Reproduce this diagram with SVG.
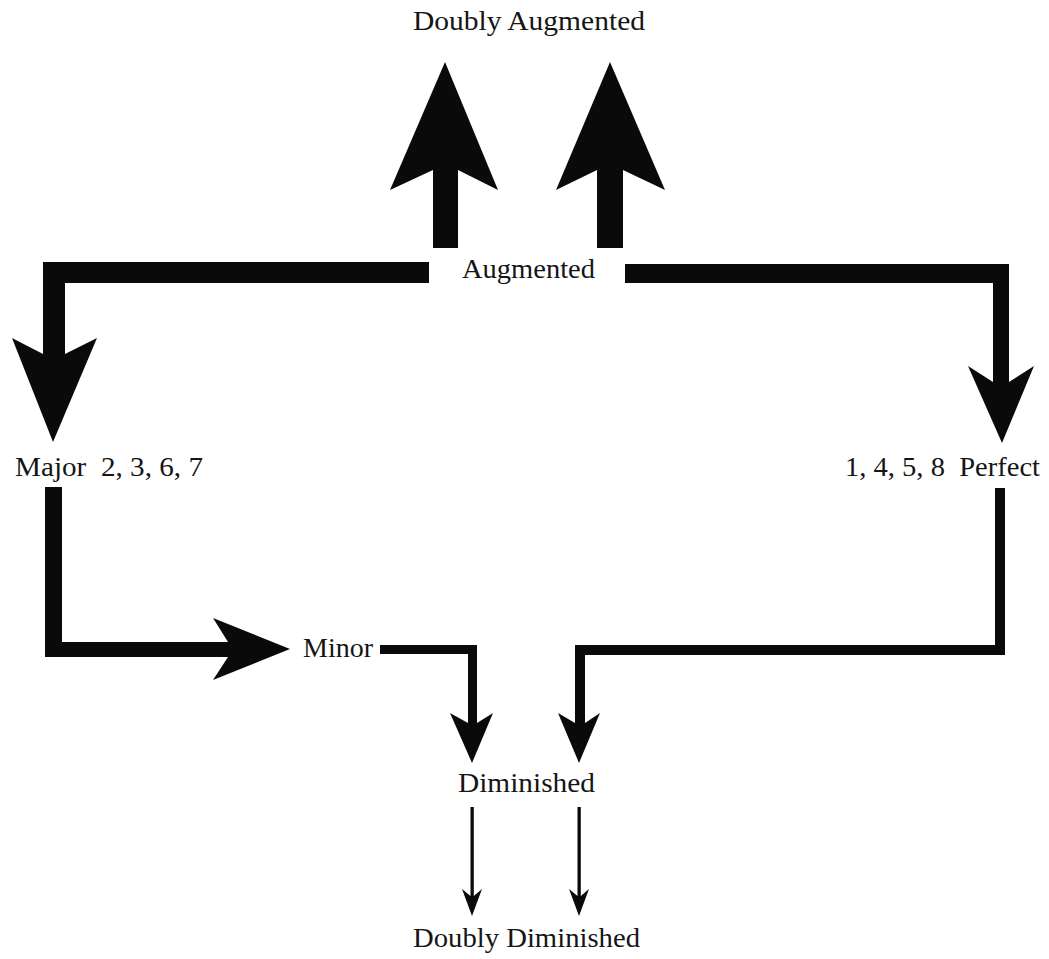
<svg xmlns="http://www.w3.org/2000/svg" width="1049" height="959" viewBox="0 0 1049 959">
  <style>
    .lbl { font-family: "Liberation Serif", "Times New Roman", serif; font-size: 27px; fill: #151515; }
    .arrow { fill: #0a0a0a; stroke: none; }
  </style>
  <rect width="1049" height="959" fill="#ffffff"/>

  <!-- connectors: solid filled arrow outlines -->
  <g id="connectors">
    <!-- Augmented -> Doubly Augmented (two heavy arrows) -->
    <polygon class="arrow" points="445,62 498,190 458,170 458,248 433,248 433,170 390,190"/>
    <polygon class="arrow" points="610,62 665,190 623,170 623,248 597,248 597,170 556,190"/>
    <!-- Augmented -> Major -->
    <polygon class="arrow" points="429,262 43,262 43,354 12,338 53,442 97,338 65,354 65,283 429,283"/>
    <!-- Augmented -> Perfect -->
    <polygon class="arrow" points="625,264 1009,264 1009,382 1034,366 1002,443 968,366 993,382 993,283 625,283"/>
    <!-- Major -> Minor -->
    <polygon class="arrow" points="45,487 62,487 62,642 228,642 213,618 290,649 213,680 228,657 45,657"/>
    <!-- Minor -> Diminished -->
    <polygon class="arrow" points="380,645 477,645 477,723 493,713 472,763 450,713 468,723 468,654 380,654"/>
    <!-- Perfect -> Diminished -->
    <polygon class="arrow" points="995,488 1005,488 1005,655 585,655 585,723 600,713 579,763 558,713 575,723 575,645 995,645"/>
    <!-- Diminished -> Doubly Diminished (two light arrows) -->
    <polygon class="arrow" points="470.5,807 473.8,807 473.8,896 482,889 472,916 462,889 470.5,896"/>
    <polygon class="arrow" points="577.5,807 580.8,807 580.8,896 589,889 579,916 569,889 577.5,896"/>
  </g>

  <g id="node-doubly-augmented">
    <text class="lbl" x="413" y="30" textLength="232" lengthAdjust="spacingAndGlyphs">Doubly Augmented</text>
  </g>
  <g id="node-augmented">
    <text class="lbl" x="462" y="278" font-size="25" textLength="133" lengthAdjust="spacingAndGlyphs">Augmented</text>
  </g>
  <g id="node-major">
    <text class="lbl" x="15" y="476" textLength="188" lengthAdjust="spacingAndGlyphs" xml:space="preserve">Major  2, 3, 6, 7</text>
  </g>
  <g id="node-perfect">
    <text class="lbl" x="845" y="476" textLength="195" lengthAdjust="spacingAndGlyphs" xml:space="preserve">1, 4, 5, 8  Perfect</text>
  </g>
  <g id="node-minor">
    <text class="lbl" x="303" y="657" textLength="70" lengthAdjust="spacingAndGlyphs">Minor</text>
  </g>
  <g id="node-diminished">
    <text class="lbl" x="458" y="792" textLength="137" lengthAdjust="spacingAndGlyphs">Diminished</text>
  </g>
  <g id="node-doubly-diminished">
    <text class="lbl" x="413" y="947" textLength="227" lengthAdjust="spacingAndGlyphs">Doubly Diminished</text>
  </g>
</svg>
